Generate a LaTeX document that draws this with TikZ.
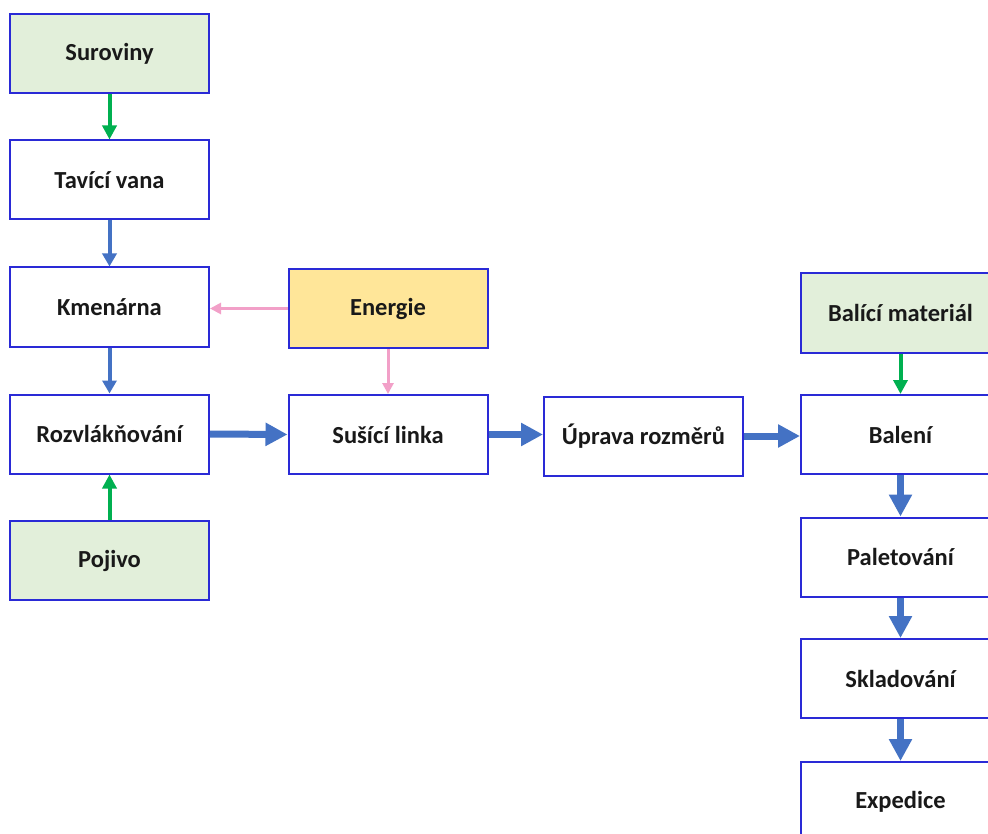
\documentclass[tikz,border=0pt]{standalone}
\usepackage{fontspec}
\setmainfont{Carlito}
\usetikzlibrary{arrows.meta}
\definecolor{bordc}{HTML}{2A2AD6}
\definecolor{greenfill}{HTML}{E2EFDA}
\definecolor{yellowfill}{HTML}{FFE699}
\definecolor{greenarr}{HTML}{00B050}
\definecolor{bluearr}{HTML}{4472C4}
\definecolor{pinkarr}{HTML}{F2A0C8}
\tikzset{
  box/.style={draw=bordc, line width=2pt, minimum width=199pt, minimum height=79pt, inner sep=0pt, font=\fontsize{24.5}{27}\selectfont\bfseries, text=black!90},
  gbox/.style={box, fill=greenfill},
  ybox/.style={box, fill=yellowfill},
  wbox/.style={box, fill=white},
  thinblue/.style={draw=bluearr, line width=4pt, -{Triangle[length=13pt,width=14pt]}},
  thickblue/.style={draw=bluearr, line width=7pt, -{Triangle[length=22pt,width=22pt]}},
  greenar/.style={draw=greenarr, line width=4pt, -{Triangle[length=14pt,width=14pt]}},
  pinkar/.style={draw=pinkarr, line width=3pt, -{Triangle[length=11pt,width=11pt]}},
}
\begin{document}
\begin{tikzpicture}[x=1pt,y=-1pt]
\useasboundingbox (0,0) rectangle (988,834);
\clip (0,0) rectangle (988,834);
\fill[white] (0,0) rectangle (988,834);
\node[gbox] (sur) at (109.5,53.5) {Suroviny};
\node[wbox] (tav) at (109.5,180) {Tavící vana};
\node[wbox] (kme) at (109.5,307) {Kmenárna};
\node[wbox] (roz) at (109.5,434) {Rozvlákňování};
\node[gbox] (poj) at (109.5,560.5) {Pojivo};
\node[ybox] (ene) at (388,308.5) {Energie};
\node[wbox] (sus) at (388,434.5) {Sušící linka};
\node[wbox] (upr) at (643.5,436) {Úprava rozměrů};
\node[gbox] (bm) at (900.5,313) {Balící materiál};
\node[wbox] (bal) at (900.5,434.5) {Balení};
\node[wbox] (pal) at (900.5,557) {Paletování};
\node[wbox] (skl) at (900.5,678.5) {Skladování};
\node[wbox] (exp) at (900.5,801.5) {Expedice};
\draw[greenar] (sur.south) -- (tav.north);
\draw[thinblue] (tav.south) -- (kme.north);
\draw[thinblue] (kme.south) -- (roz.north);
\draw[greenar] (poj.north) -- (roz.south);
\draw[pinkar] (ene.west) -- (ene.west -| kme.east);
\draw[pinkar] (ene.south) -- (sus.north);
\draw[thickblue] (roz.east) -- (sus.west);
\draw[thickblue] (sus.east) -- (sus.east -| upr.west);
\draw[thickblue] (upr.east) -- (upr.east -| bal.west);
\draw[greenar] (bm.south) -- (bal.north);
\draw[thickblue] (bal.south) -- (pal.north);
\draw[thickblue] (pal.south) -- (skl.north);
\draw[thickblue] (skl.south) -- (exp.north);
\end{tikzpicture}
\end{document}
